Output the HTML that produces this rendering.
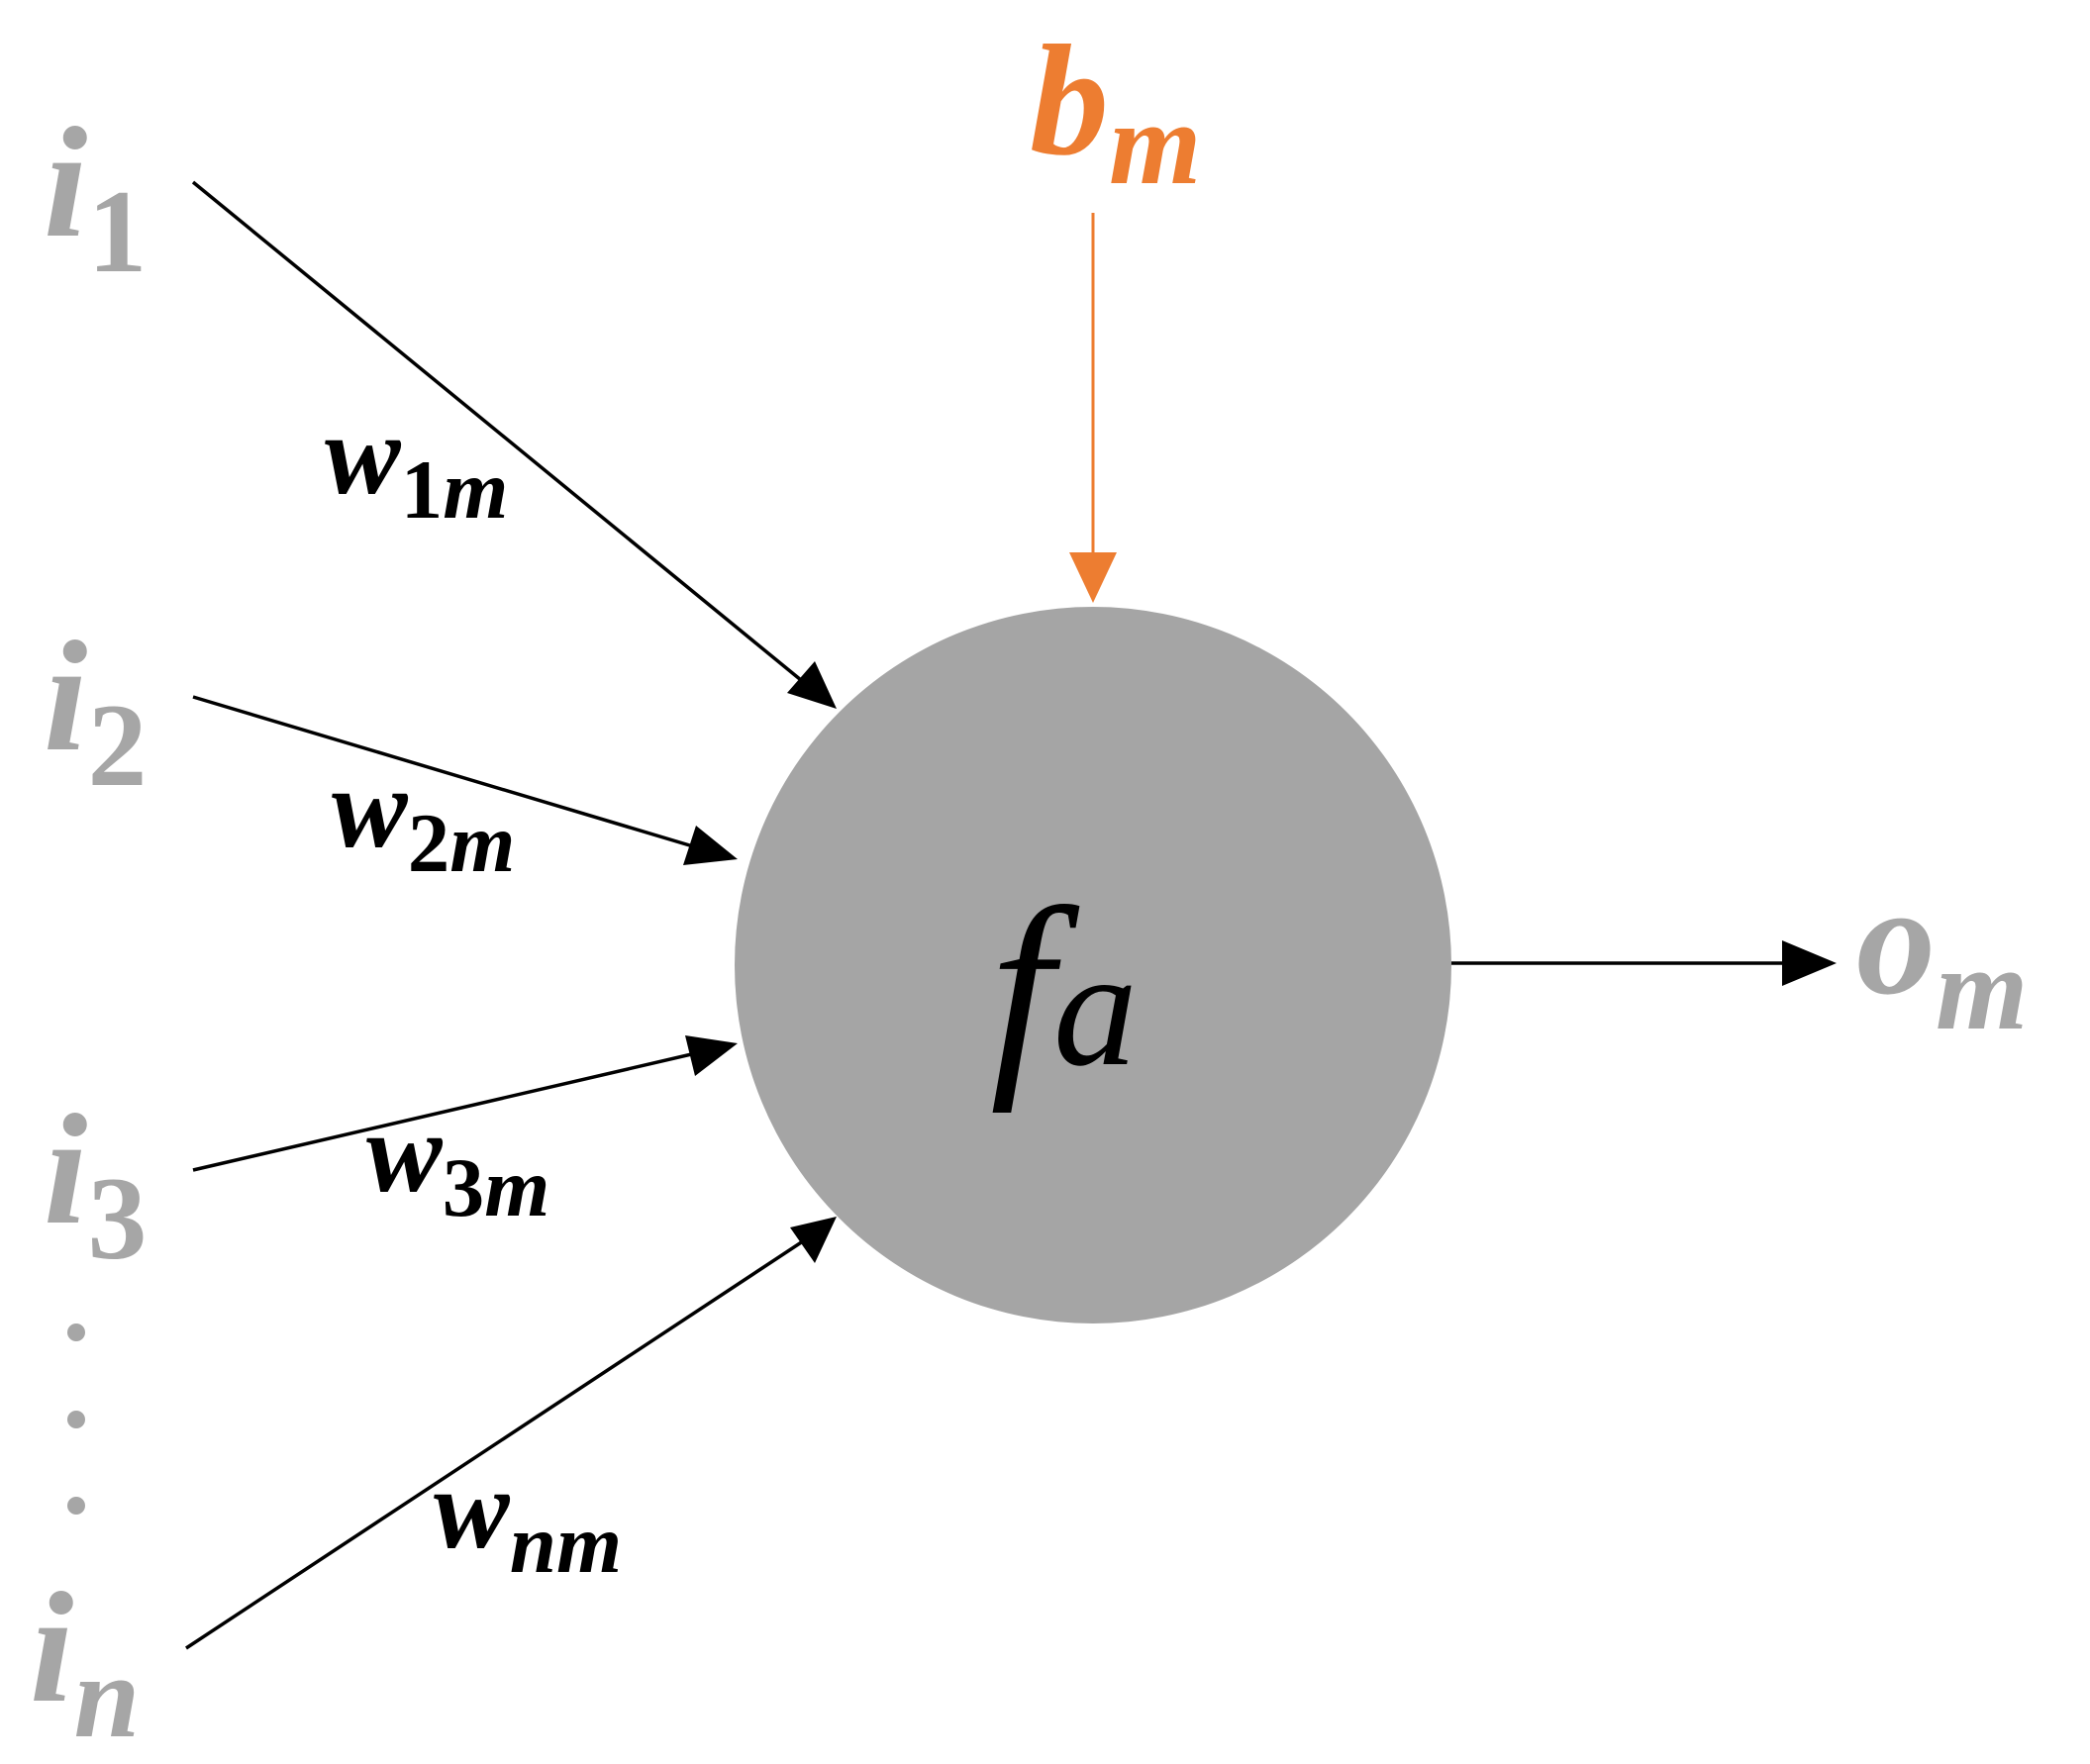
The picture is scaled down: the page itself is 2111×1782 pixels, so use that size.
<!DOCTYPE html>
<html><head><meta charset="utf-8"><style>
html,body{margin:0;padding:0;background:#fff;}
svg{display:block;}
text{font-family:"Liberation Serif",serif;font-style:italic;}
</style></head><body>
<svg width="2111" height="1782" viewBox="0 0 2111 1782" xmlns="http://www.w3.org/2000/svg">
<defs>
<marker id="ab" markerWidth="10" markerHeight="10" refX="9" refY="5" orient="auto" markerUnits="userSpaceOnUse" viewBox="0 0 10 10">
</marker>
</defs>
<circle cx="1104" cy="975" r="362" fill="#a5a5a5"/>
<g stroke="#000" stroke-width="3.5">
<line x1="195" y1="184" x2="820" y2="696"/>
<line x1="195" y1="704" x2="720" y2="861"/>
<line x1="195" y1="1182" x2="720" y2="1060"/>
<line x1="188" y1="1665" x2="820" y2="1248"/>
<line x1="1466" y1="973" x2="1820" y2="973"/>
</g>
<line x1="1104" y1="215" x2="1104" y2="570" stroke="#ed7d31" stroke-width="3"/>
<polygon points="1104,609 1080,558 1128,558" fill="#ed7d31"/>
<polygon points="1855,973 1800,950 1800,996" fill="#000"/>
<polygon points="845,716 795,700 823,668" fill="#000"/>
<polygon points="745,868 690,874 703,834" fill="#000"/>
<polygon points="745,1054 702,1087 692,1046" fill="#000"/>
<polygon points="845,1229 823,1276 798,1240" fill="#000"/>
<g fill="#a6a6a6" font-weight="bold">
<text x="44" y="238" font-size="160">i<tspan font-size="120" font-style="normal" dy="36">1</tspan></text>
<text x="44" y="757" font-size="160">i<tspan font-size="120" font-style="normal" dy="36">2</tspan></text>
<text x="44" y="1235" font-size="160">i<tspan font-size="120" font-style="normal" dy="36">3</tspan></text>
<text x="30" y="1718" font-size="160">i<tspan font-size="120" dy="36">n</tspan></text>
<text x="1875" y="1003" font-size="160">o<tspan font-size="120" dy="36">m</tspan></text>
<circle cx="77" cy="1346" r="9"/><circle cx="77" cy="1434" r="9"/><circle cx="77" cy="1521" r="9"/>
</g>
<text x="1040" y="155" font-size="160" font-weight="bold" fill="#ed7d31">b<tspan font-size="120" dy="30">m</tspan></text>
<text x="1000" y="1075" font-size="230" fill="#000">f<tspan font-size="170" dy="0">a</tspan></text>
<g fill="#000" font-weight="bold">
<text x="328" y="498" font-size="115">w<tspan font-size="85" dy="25"><tspan font-style="normal">1</tspan>m</tspan></text>
<text x="335" y="855" font-size="115">w<tspan font-size="85" dy="25"><tspan font-style="normal">2</tspan>m</tspan></text>
<text x="370" y="1203" font-size="115">w<tspan font-size="85" dy="25"><tspan font-style="normal">3</tspan>m</tspan></text>
<text x="438" y="1563" font-size="115">w<tspan font-size="85" dy="25">nm</tspan></text>
</g>
</svg>
</body></html>
